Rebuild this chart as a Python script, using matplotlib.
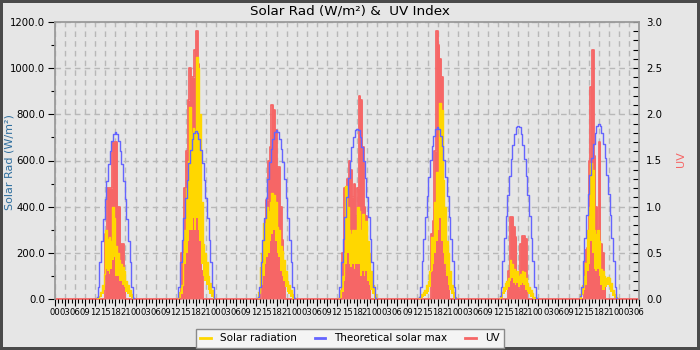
import numpy as np
import matplotlib
matplotlib.use("Agg")
import matplotlib.pyplot as plt
from matplotlib.lines import Line2D

# ---------------- data ----------------
# half-hour daylight slots (hour of day) used for each of the 7 days
slot_hours = np.arange(12.5, 24.0, 0.5)          # 23 slots, 12:30 .. 23:30
n_days = 7
x_end_hours = 7 * 24 + 6                          # axis runs to 06:00 of day 8

theo_max = [
    [10, 51, 159, 253, 347, 433, 513, 585, 643, 686, 715, 722, 715, 686, 643, 585, 513, 433, 347, 253, 159, 51, 5],
    [10, 51, 160, 254, 349, 436, 516, 589, 647, 691, 720, 727, 720, 691, 647, 589, 516, 436, 349, 254, 160, 51, 5],
    [10, 51, 161, 256, 351, 439, 520, 593, 651, 695, 725, 732, 725, 695, 651, 593, 520, 439, 351, 256, 161, 51, 5],
    [10, 52, 162, 258, 354, 443, 524, 598, 657, 701, 731, 738, 731, 701, 657, 598, 524, 443, 354, 258, 162, 52, 5],
    [10, 52, 163, 260, 357, 446, 528, 602, 661, 706, 736, 743, 736, 706, 661, 602, 528, 446, 357, 260, 163, 52, 5],
    [11, 53, 165, 263, 360, 450, 533, 608, 668, 713, 743, 750, 743, 713, 668, 608, 533, 450, 360, 263, 165, 53, 5],
    [11, 53, 166, 265, 363, 454, 537, 612, 673, 718, 748, 756, 748, 718, 673, 612, 537, 454, 363, 265, 166, 53, 5],
]

solar_hi = [
    [5, 15, 30, 60, 110, 300, 260, 270, 250, 400, 350, 230, 200, 170, 150, 140, 120, 80, 60, 40, 20, 5, 0],
    [10, 30, 60, 200, 300, 480, 600, 830, 720, 740, 730, 1050, 1000, 800, 420, 240, 200, 160, 100, 70, 40, 15, 0],
    [30, 140, 200, 330, 320, 400, 380, 420, 460, 450, 420, 310, 300, 230, 210, 170, 120, 80, 60, 40, 20, 5, 0],
    [10, 40, 100, 200, 490, 400, 300, 280, 300, 260, 300, 400, 380, 300, 370, 300, 340, 250, 200, 120, 60, 20, 0],
    [10, 20, 30, 40, 60, 80, 120, 270, 250, 420, 550, 500, 850, 820, 515, 400, 250, 200, 120, 60, 30, 10, 0],
    [10, 30, 50, 70, 80, 90, 170, 150, 130, 110, 120, 100, 110, 120, 115, 90, 70, 50, 40, 25, 10, 5, 0],
    [20, 60, 100, 155, 300, 400, 590, 560, 300, 280, 300, 250, 130, 120, 100, 90, 95, 90, 70, 40, 20, 10, 0],
]

solar_lo = [
    [0, 0, 10, 20, 40, 130, 120, 110, 130, 170, 180, 100, 100, 80, 80, 60, 50, 30, 20, 10, 5, 0, 0],
    [0, 5, 20, 80, 150, 200, 250, 300, 300, 350, 300, 350, 300, 250, 150, 100, 80, 60, 40, 20, 10, 0, 0],
    [0, 20, 60, 100, 150, 180, 200, 250, 280, 300, 250, 200, 180, 120, 100, 80, 50, 30, 20, 10, 0, 0, 0],
    [0, 5, 30, 80, 150, 200, 150, 140, 150, 130, 150, 150, 150, 100, 120, 100, 120, 80, 60, 40, 20, 0, 0],
    [0, 5, 10, 15, 20, 30, 50, 120, 150, 200, 250, 300, 350, 250, 200, 150, 100, 60, 40, 20, 5, 0, 0],
    [0, 5, 20, 30, 40, 50, 80, 90, 70, 60, 70, 50, 60, 70, 60, 40, 30, 20, 10, 5, 0, 0, 0],
    [0, 20, 40, 60, 120, 150, 250, 200, 130, 120, 130, 100, 60, 40, 40, 50, 60, 50, 30, 15, 5, 0, 0],
]

uv_index = [
    [0, 0, 0, 0, 0, 0.7, 1.2, 1.2, 1.2, 1.7, 1.7, 1.7, 1.0, 1.0, 0.6, 0.6, 0.2, 0, 0, 0, 0, 0, 0],
    [0, 0, 0.5, 0.5, 1.2, 1.6, 2.15, 2.5, 2.4, 2.4, 2.7, 2.9, 2.55, 1.6, 0.3, 0, 0, 0, 0, 0, 0, 0, 0],
    [0, 0, 0.3, 0.57, 0.82, 1.07, 1.5, 1.65, 2.1, 2.05, 1.83, 1.43, 1.43, 1.0, 0.64, 0.35, 0, 0, 0, 0, 0, 0, 0],
    [0, 0, 0.5, 1.2, 0.9, 1.3, 1.5, 1.4, 1.1, 1.25, 0.9, 1.2, 2.2, 2.15, 1.65, 1.0, 0.9, 0.4, 0.25, 0, 0, 0, 0],
    [0, 0, 0, 0, 0, 0, 0, 0.7, 0.85, 1.6, 2.9, 2.75, 2.6, 2.4, 1.0, 0.3, 0.5, 0.3, 0, 0, 0, 0, 0],
    [0, 0, 0, 0, 0, 0.3, 0.89, 0.89, 0.78, 0.67, 0.2, 0.1, 0.6, 0.68, 0.68, 0.65, 0, 0, 0, 0, 0, 0, 0],
    [0, 0, 0.3, 0.53, 0.55, 1.5, 2.3, 2.7, 1.55, 1.0, 0.75, 1.7, 0.6, 0.5, 0.2, 0, 0, 0, 0, 0, 0, 0, 0],
]

series_labels = ["Solar radiation", "Theoretical solar max", "UV"]
title_text = "Solar Rad (W/m\u00b2) &  UV Index"
left_label = "Solar Rad (W/m\u00b2)"
right_label = "UV"

# ---------------- style ----------------
BG = "#e6e6e6"
YEL = "#ffd700"
BLUE = "#6464ff"
RED = "#f66666"
GRID = "#b8b8b8"
SPINE = "#9a9a9a"

fig = plt.figure(figsize=(7, 3.5), dpi=100, facecolor=BG,
                 edgecolor="#4a4a4a", linewidth=3)

rect = [55 / 700, 1 - 299 / 350, 584 / 700, 277 / 350]
ax = fig.add_axes(rect)
axu = ax.twinx()
ax.set_zorder(axu.get_zorder() + 1)
ax.patch.set_visible(False)
axu.patch.set_visible(True)
axu.patch.set_facecolor(BG)

# UV (full time series, zeros at night)
step = 0.5
t_full = np.arange(0, x_end_hours + step, step)
uv_full = np.zeros_like(t_full)
for d in range(n_days):
    idx = np.rint((d * 24 + slot_hours) / step).astype(int)
    uv_full[idx] = uv_index[d]
axu.fill_between(t_full, 0, uv_full, step="post", color=RED, lw=0, zorder=2)
axu.step(t_full, uv_full, where="post", color=RED, lw=1.3, zorder=2, clip_on=False)

# solar radiation and theoretical max, per day
for d in range(n_days):
    t = d * 24 + slot_hours
    ax.fill_between(t, solar_lo[d], solar_hi[d], step="post", color=YEL, lw=0, zorder=3)
    ax.step(t, solar_hi[d], where="post", color=YEL, lw=1.0, zorder=3)
    ax.step(t, theo_max[d], where="mid", color=BLUE, lw=1.0, zorder=4)

# axes limits & ticks
ax.set_xlim(0, x_end_hours)
ax.set_ylim(0, 1200)
axu.set_ylim(0, 3.0)

xt = np.arange(0, x_end_hours + 1, 3)
ax.set_xticks(xt)
ax.set_xticklabels([f"{int(h % 24):02d}" for h in xt])
ax.set_xticks(np.arange(0, x_end_hours + 1, 1), minor=True)

yt = np.arange(0, 1201, 200)
ax.set_yticks(yt)
ax.set_yticklabels([f"{v:.1f}" for v in yt])
ax.set_yticks(np.arange(0, 1201, 100), minor=True)

ut = np.arange(0, 3.01, 0.5)
axu.set_yticks(ut)
axu.set_yticklabels([f"{v:.1f}" for v in ut])
axu.set_yticks(np.arange(0, 3.01, 0.1), minor=True)

ax.tick_params(axis="x", which="major", direction="out", length=5, width=0.8,
               labelsize=6.1, pad=1.5, colors="black")
ax.tick_params(axis="x", which="minor", direction="out", length=3, width=0.8, colors="black")
ax.tick_params(axis="y", which="major", direction="out", length=5, width=0.8,
               labelsize=7.3, pad=2, colors="black")
ax.tick_params(axis="y", which="minor", direction="out", length=3, width=0.8, colors="black")
axu.tick_params(axis="y", which="both", direction="in", length=4, width=0.8,
                labelsize=7.3, pad=5, colors="black")

# grid on the bottom (UV) axes so it stays beneath the data
axu.xaxis.set_visible(True)
axu.tick_params(axis="x", which="both", bottom=False, top=False,
                labelbottom=False, labeltop=False)
axu.grid(True, which="major", axis="both", color=GRID, linestyle=(0, (4, 3)), lw=1.0)
axu.set_axisbelow(True)

for sp in axu.spines.values():
    sp.set_visible(False)
for name in ("top", "left", "right"):
    ax.spines[name].set_color(SPINE)
    ax.spines[name].set_linewidth(1.3)
ax.spines["bottom"].set_visible(False)

# texts
fig.text(0.5, 1 - 10.5 / 350, title_text, ha="center", va="center", fontsize=9.7)
fig.text(10 / 700, 1 - 162 / 350, left_label, rotation=90, ha="center", va="center",
         fontsize=8, color="#2e6e9e")
fig.text(681 / 700, 1 - 159 / 350, right_label, rotation=90, ha="center", va="center",
         fontsize=8, color=RED)

handles = [Line2D([], [], color=YEL, lw=2),
           Line2D([], [], color=BLUE, lw=2),
           Line2D([], [], color=RED, lw=2)]
leg = fig.legend(handles, series_labels, loc="lower center", bbox_to_anchor=(0.5, 2 / 350),
                 ncol=3, fontsize=7.5, handlelength=1.0, handletextpad=0.9,
                 columnspacing=1.7, fancybox=False, framealpha=1, facecolor="#f4f4f4",
                 edgecolor="#8a8a8a", borderpad=0.45, borderaxespad=0)
leg.get_frame().set_linewidth(1.0)

fig.savefig("out.png", dpi=100, facecolor=fig.get_facecolor(), edgecolor=fig.get_edgecolor())
